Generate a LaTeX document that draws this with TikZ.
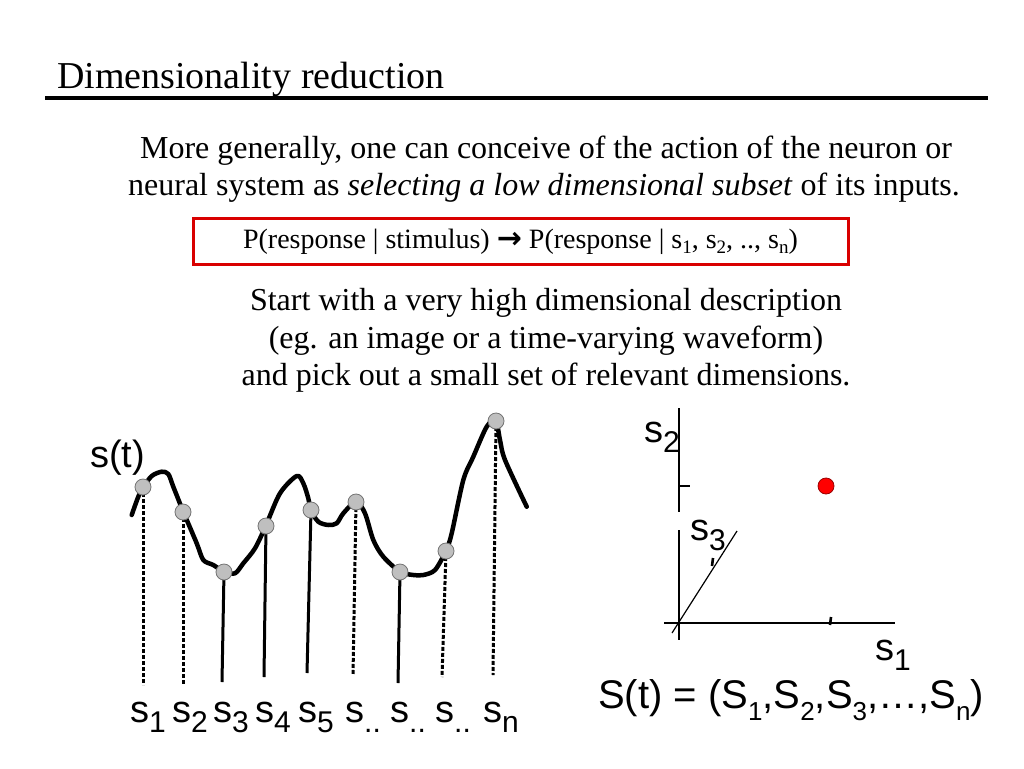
\documentclass[tikz,border=0pt]{standalone}
\usepackage{fontspec}
\setmainfont{Liberation Serif}
\newfontfamily\arialf{Liberation Sans}
\newfontfamily\djvf{DejaVu Sans}
\newcommand\lsub[1]{\raisebox{-10pt}{\fontsize{30}{30}\selectfont #1}}
\newcommand\fsub[1]{\raisebox{-12pt}{\fontsize{26}{26}\selectfont #1}}
\newcommand\tsub[1]{\raisebox{-5pt}{\fontsize{19}{19}\selectfont #1}}
\tikzset{
  body/.style={font=\fontsize{32}{32}\selectfont, anchor=base, inner sep=0pt},
  slab/.style={font=\arialf\fontsize{38}{38}\selectfont, anchor=base west, inner sep=0pt},
  sample/.style={circle, fill=black!25, draw=black!55, line width=0.8pt, minimum size=16pt, inner sep=0pt},
  solidline/.style={line width=3pt},
  dashline/.style={line width=3pt, dash pattern=on 4pt off 2pt},
  wave/.style={line width=4.5pt, line join=round, line cap=round},
  axis/.style={line width=1.5pt},
  tick/.style={line width=2.6pt}
}
\begin{document}
\begin{tikzpicture}[x=1pt,y=-1pt]
\useasboundingbox[fill=white] (0,0) rectangle (1024,768);
% title
\node[anchor=base west, inner sep=0pt, font=\fontsize{38}{38}\selectfont] (title) at (57,88) {Dimensionality reduction};
\draw[line width=3.5pt] (45,98) -- (988,98);
% intro
\node[body] (l1) at (546,158) {More generally, one can conceive of the action of the neuron or};
\node[body] (l2) at (544,195) {neural system as \textit{selecting a low dimensional subset} of its inputs.};
% box
\node[draw=red!85!black, line width=3pt, minimum width=655pt, minimum height=46pt, inner sep=0pt,
      font=\fontsize{28}{28}\selectfont] (box) at (520.5,241.5)
  {P(response | stimulus) {\djvf\bfseries\fontsize{30}{30}\selectfont →} P(response | s\tsub{1}, s\tsub{2}, .., s\tsub{n})};
% second paragraph
\node[body] (p1) at (546,310) {Start with a very high dimensional description};
\node[body] (p2) at (546,348) {(eg. an image or a time-varying waveform)};
\node[body] (p3) at (546,385) {and pick out a small set of relevant dimensions.};
% waveform
\node[slab] (st) at (90,467) {s(t)};
\draw[wave] plot[smooth, tension=0.5] coordinates {
 (131.7,515) (138.3,496.7) (143.3,487.3) (151.7,476) (161.7,471.7) (168.3,474) (173.3,486.7)
 (183.3,511.7) (196.7,543.3) (203.3,560) (213.3,565) (224,571.7) (235,573.3) (243.3,563.3)
 (255,548.3) (265.7,526) (280,493.3) (296.7,476) (303.3,483.3) (308.3,498.3) (310.7,510)
 (318.3,521.7) (328.3,525) (336.7,523.3) (343.3,513.3) (356,501.7) (365,513.3) (373.3,540)
 (383.3,556.7) (400,571.7) (413.3,575) (423.3,575) (435,570) (446,550.7) (451.7,533.3)
 (463.3,480) (473.3,456.7) (486.7,426.7) (495.7,420.7) (500,440) (505,460) (526.7,506.7)};
% sample points
\coordinate (b1) at (143,685);
\coordinate (b2) at (183,685);
\coordinate (b3) at (222,682);
\coordinate (b4) at (264,677);
\coordinate (b5) at (307,673);
\coordinate (b6) at (353,675);
\coordinate (b7) at (398,683);
\coordinate (b8) at (442,677);
\coordinate (b9) at (493,675);
\coordinate (c1p) at (143,487);
\coordinate (c2p) at (183,512);
\coordinate (c3p) at (224,572);
\coordinate (c4p) at (266,526);
\coordinate (c5p) at (311,510);
\coordinate (c6p) at (356,502);
\coordinate (c7p) at (400,572);
\coordinate (c8p) at (446,551);
\coordinate (c9p) at (496,421);
\draw[dashline] (c1p) -- (b1);
\draw[dashline] (c2p) -- (b2);
\draw[solidline] (c3p) -- (b3);
\draw[solidline] (c4p) -- (b4);
\draw[solidline] (c5p) -- (b5);
\draw[dashline] (c6p) -- (b6);
\draw[solidline] (c7p) -- (b7);
\draw[dashline] (c8p) -- (b8);
\draw[dashline] (c9p) -- (b9);
\foreach \i in {1,...,9} { \node[sample] (c\i) at (c\i p) {}; }
% sample labels
\node[slab] (s1) at (130,722) {s\lsub{1}};
\node[slab] (s2) at (172,722) {s\lsub{2}};
\node[slab] (s3) at (213,722) {s\lsub{3}};
\node[slab] (s4) at (255,722) {s\lsub{4}};
\node[slab] (s5) at (298,722) {s\lsub{5}};
\node[slab] (s6) at (345,722) {s\lsub{..}};
\node[slab] (s7) at (390,722) {s\lsub{..}};
\node[slab] (s8) at (435,722) {s\lsub{..}};
\node[slab] (s9) at (483,722) {s\lsub{n}};
% axes
\coordinate (o) at (679,623);
\coordinate (ytop) at (679,408);
\coordinate (ygap1) at (679,512);
\coordinate (ygap2) at (679,530);
\coordinate (ybot) at (679,640);
\coordinate (xl) at (664,623);
\coordinate (xr) at (895,623);
\coordinate (zl) at (672,633);
\coordinate (zr) at (737,531);
\draw[axis] (ytop) -- (ygap1);
\draw[axis] (ygap2) -- (ybot);
\draw[axis] (xl) -- (xr);
\draw[line width=1.2pt] (zl) -- (zr);
\coordinate (ty1) at (679,486);
\coordinate (ty2) at (690,486);
\draw[tick] (ty1) -- (ty2);
\coordinate (tx1) at (831,617);
\coordinate (tx2) at (830,625);
\draw[tick] (tx1) -- (tx2);
\coordinate (tz1) at (713,558);
\coordinate (tz2) at (712,566);
\draw[tick] (tz1) -- (tz2);
\node[circle, fill=red, draw=red!60!black, line width=0.8pt, minimum size=16pt, inner sep=0pt] (pt) at (826,486) {};
\node[slab] (ax2) at (644,442) {s\lsub{2}};
\node[slab] (ax3) at (690,540) {s\lsub{3}};
\node[slab] (ax1) at (875,660) {s\lsub{1}};
% formula
\node[slab, font=\arialf\fontsize{40}{40}\selectfont] (form) at (598,708)
  {S(t) = (S\fsub{1},S\fsub{2},S\fsub{3},\dots,S\fsub{n})};
\end{tikzpicture}
\end{document}
